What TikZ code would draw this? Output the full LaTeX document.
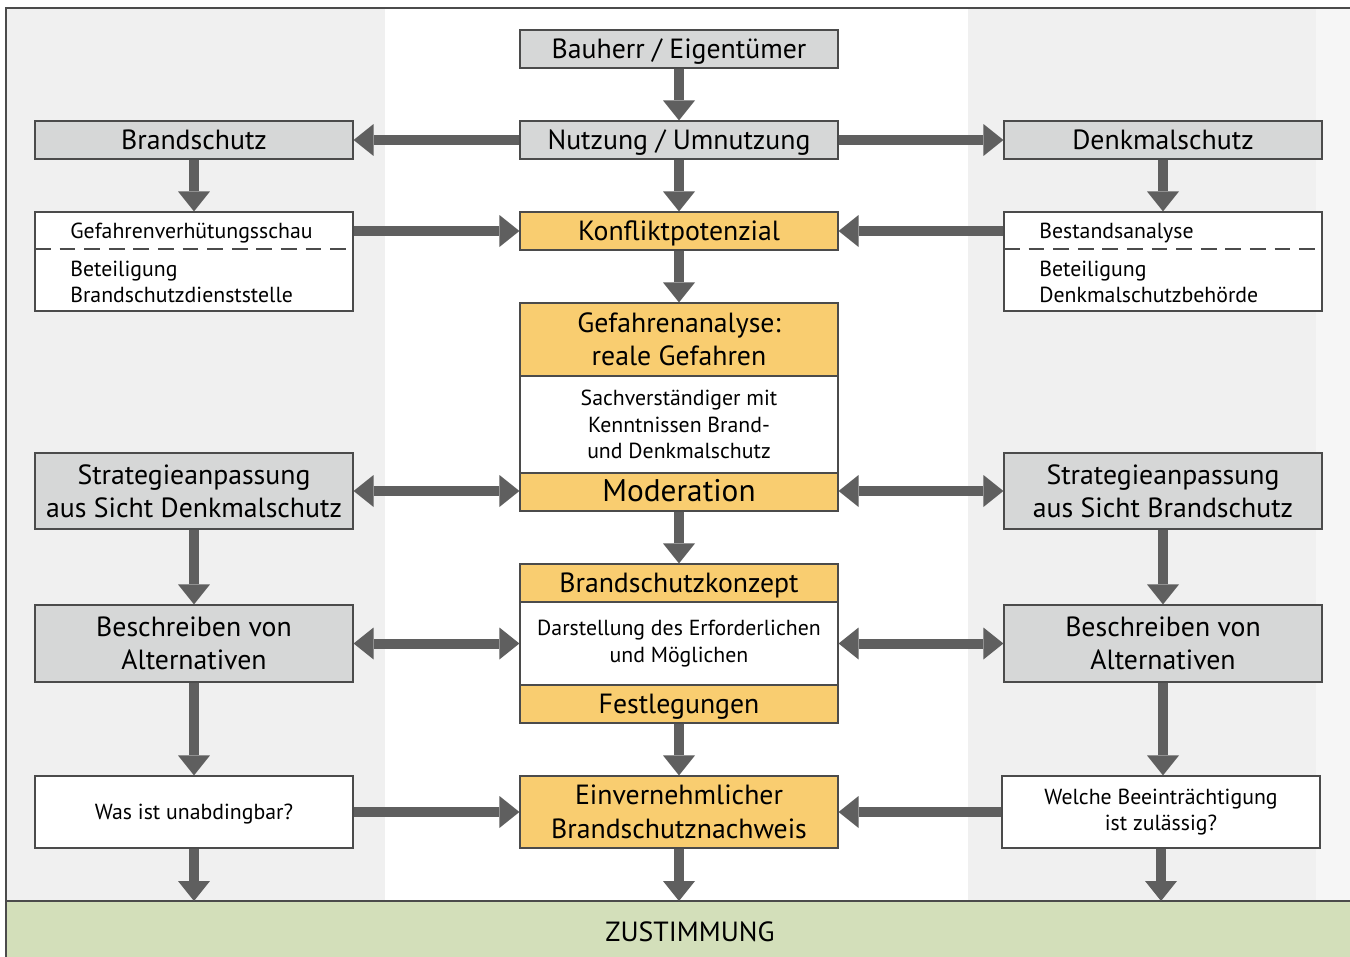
\documentclass[tikz,border=0pt]{standalone}
\usepackage{fontspec}
\setmainfont{PT Sans}
\usetikzlibrary{arrows.meta,positioning}

\definecolor{boxgray}{RGB}{214,215,215}
\definecolor{boxorange}{RGB}{249,205,112}
\definecolor{bargreen}{RGB}{211,223,186}
\definecolor{colgray}{RGB}{240,240,240}
\definecolor{arrowgray}{RGB}{95,95,95}
\definecolor{linegray}{RGB}{75,75,75}

\newcommand{\bigtxt}{\fontsize{15.8}{19}\selectfont}
\newcommand{\modtxt}{\fontsize{17.8}{20}\selectfont}
\newcommand{\smalltxt}{\fontsize{12.4}{15}\selectfont}

\tikzset{
    box/.style={draw=linegray, line width=0.7pt, minimum width=6.36cm,
        minimum height=0.76cm, inner sep=0pt},
    graybox/.style={box, fill=boxgray, font=\bigtxt},
    orangebox/.style={box, fill=boxorange, font=\bigtxt},
    whitebox/.style={box, fill=white, font=\smalltxt},
    single/.style={text height=14pt, text depth=3pt},
    ssingle/.style={text height=11.5pt, text depth=3pt},
    lines/.style={align=center},
    intext/.style={anchor=west, align=left, inner sep=0pt, font=\smalltxt},
    arr/.style={draw=arrowgray, line width=0.2cm,
        -{Triangle[width=0.64cm, length=0.4cm, line width=0pt]}},
    dbl/.style={draw=arrowgray, line width=0.2cm,
        {Triangle[width=0.64cm, length=0.4cm, line width=0pt]}-{Triangle[width=0.64cm, length=0.4cm, line width=0pt]}}
}

\begin{document}
\begin{tikzpicture}[x=0.02cm, y=-0.02cm]
    \useasboundingbox (0,0) rectangle (1350,957);
    \fill[white] (0,0) rectangle (1350,957);
    \fill[colgray] (6,8) rectangle (385,901);
    \fill[colgray] (968,8) rectangle (1316,901);
    \fill[colgray!60] (1316,8) rectangle (1350,901);

    % green bar
    \fill[bargreen] (6,901) rectangle (1350,957);
    \draw[linegray, line width=0.8pt] (6,901) -- (1350,901);
    \draw[linegray, line width=1.2pt] (6,957) -- (6,8) -- (1350,8);
    \coordinate (bartop) at (679,901);
    \node[font=\bigtxt, single] (zust) at (690,932) {ZUSTIMMUNG};

    % middle column
    \node[graybox, single] (bauherr) at (679,49) {Bauherr / Eigentümer};
    \node[graybox, single] (nutzung) at (679,140) {Nutzung / Umnutzung};
    \node[orangebox, single] (konflikt) at (679,231) {Konfliktpotenzial};
    \node[orangebox, lines, minimum height=1.46cm] (gefahr) at (679,339.5) {Gefahrenanalyse:\\reale Gefahren};
    \node[whitebox, lines, minimum height=1.94cm] (sachv) at (679,424.5) {Sachverständiger mit\\Kenntnissen Brand-\\und Denkmalschutz};
    \node[orangebox, single, font=\modtxt] (moder) at (679,492) {Moderation};
    \node[orangebox, single] (konzept) at (679,583) {Brandschutzkonzept};
    \node[whitebox, lines, minimum height=1.66cm] (darst) at (679,643.5) {Darstellung des Erforderlichen\\und Möglichen};
    \node[orangebox, single] (festl) at (679,704) {Festlegungen};
    \node[orangebox, lines, minimum height=1.44cm] (einv) at (679,812) {Einvernehmlicher\\Brandschutznachweis};

    % left column
    \node[graybox, single] (brand) at (194,140) {Brandschutz};
    \node[whitebox, minimum height=1.98cm] (gvbox) at (194,261.5) {};
    \draw[linegray, line width=0.7pt, dash pattern=on 9pt off 5pt] (35,249) -- (353,249);
    \node[intext] (gvs) at (70,233) {Gefahrenverhütungsschau};
    \node[intext] (bet) at (70,282) {Beteiligung\\Brandschutzdienststelle};
    \node[graybox, lines, minimum height=1.52cm] (stratl) at (194,491) {Strategieanpassung\\aus Sicht Denkmalschutz};
    \node[graybox, lines, minimum height=1.54cm] (beschl) at (194,643.5) {Beschreiben von\\Alternativen};
    \node[whitebox, ssingle, minimum height=1.44cm] (wasist) at (194,812) {Was ist unabdingbar?};

    % right column
    \node[graybox, single] (denkmal) at (1163,140) {Denkmalschutz};
    \node[whitebox, minimum height=1.98cm] (bsbox) at (1163,261.5) {};
    \draw[linegray, line width=0.7pt, dash pattern=on 9pt off 5pt] (1004,249) -- (1322,249);
    \node[intext] (bsa) at (1039,233) {Bestandsanalyse};
    \node[intext] (betd) at (1039,282) {Beteiligung\\Denkmalschutzbehörde};
    \node[graybox, lines, minimum height=1.52cm] (stratr) at (1163,491) {Strategieanpassung\\aus Sicht Brandschutz};
    \node[graybox, lines, minimum height=1.54cm] (beschr) at (1163,643.5) {Beschreiben von\\Alternativen};
    \node[whitebox, lines, minimum height=1.44cm] (welche) at (1161,812) {Welche Beeinträchtigung\\ist zulässig?};

    % connectors
    \draw[arr] (bauherr) -- (nutzung);
    \draw[arr] (nutzung) -- (brand);
    \draw[arr] (nutzung) -- (denkmal);
    \draw[arr] (nutzung) -- (konflikt);
    \draw[arr] (brand) -- (gvbox);
    \draw[arr] (denkmal) -- (bsbox);
    \draw[arr] (gvbox.east |- konflikt) -- (konflikt);
    \draw[arr] (bsbox.west |- konflikt) -- (konflikt);
    \draw[arr] (konflikt) -- (gefahr);
    \draw[dbl] (stratl) -- (stratl -| moder.west);
    \draw[dbl] (stratr) -- (stratr -| moder.east);
    \draw[arr] (moder) -- (konzept);
    \draw[arr] (stratl) -- (beschl);
    \draw[arr] (stratr) -- (beschr);
    \draw[dbl] (beschl) -- (darst);
    \draw[dbl] (beschr) -- (darst);
    \draw[arr] (beschl) -- (wasist);
    \draw[arr] (beschr.south) -- (beschr.south |- welche.north);
    \draw[arr] (festl) -- (einv);
    \draw[arr] (wasist) -- (einv);
    \draw[arr] (welche) -- (einv);
    \draw[arr] (wasist) -- (wasist |- bartop);
    \draw[arr] (einv) -- (bartop);
    \draw[arr] (welche) -- (welche |- bartop);
\end{tikzpicture}
\end{document}
